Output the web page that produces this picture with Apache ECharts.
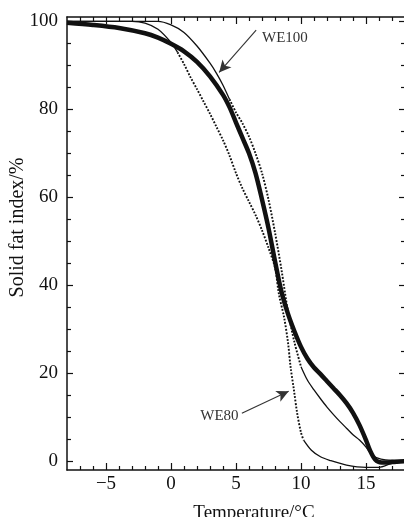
<!DOCTYPE html>
<html>
<head>
<meta charset="utf-8">
<script src="https://cdn.jsdelivr.net/npm/echarts@6/dist/echarts.min.js"></script>
<style>
html,body{margin:0;padding:0;background:#fff;}
#chart{width:404px;height:517px;}
</style>
</head>
<body>
<div id="chart"></div>
<script>
// ---------- data ----------
const xRange = [-8, 18];
const yRange = [-2, 101];
const xMajorTicks = [-5, 0, 5, 10, 15];
const xMinorTicks = [-7, -6, -4, -3, -2, -1, 1, 2, 3, 4, 6, 7, 8, 9, 11, 12, 13, 14, 16, 17];
const yMajorTicks = [0, 20, 40, 60, 80, 100];
const yMinorTicks = [5, 10, 15, 25, 30, 35, 45, 50, 55, 65, 70, 75, 85, 90, 95];

// thick solid curve
const thickCurve = [
  [-8, 99.7], [-6, 99.2], [-4, 98.5], [-2, 97.3], [-1, 96.3], [0, 94.9], [1, 93.2], [2, 90.8],
  [3, 87.5], [4, 83.3], [4.5, 80.5], [5, 77], [5.5, 73.5], [6, 70], [6.5, 65.5], [7, 59.5],
  [7.5, 53], [8, 45.5], [8.5, 38.5], [9, 33.5], [9.5, 29.5], [10, 26], [10.5, 23.3],
  [11, 21.3], [11.5, 19.8], [12, 18.2], [12.5, 16.6], [13, 15], [13.5, 13.2], [14, 11],
  [14.5, 8.2], [15, 4.8], [15.3, 2.5], [15.7, 0.4], [16.2, -0.3], [17, -0.2], [18, 0]
];
// WE100 curve (thin; dotted where steep)
const we100Curve = [
  [-8, 100], [-1, 100], [0, 99.2], [1, 97.5], [2, 94.4], [3, 90.5], [3.5, 88.2], [4, 85.5],
  [4.5, 82.3], [5, 79.3], [5.5, 76.8], [6, 73.8], [6.5, 70], [7, 65.5], [7.5, 59.5], [8, 52],
  [8.5, 43.5], [9, 34], [9.5, 27], [10, 21.5], [10.5, 18.4], [11, 16.2], [11.5, 14.2],
  [12, 12.3], [12.5, 10.6], [13, 9], [13.5, 7.5], [14, 6], [14.5, 4.8], [15, 3.2],
  [15.4, 1.6], [15.8, 0.8], [16.5, 0.3], [18, 0.2]
];
// WE80 curve (thin; dotted where steep)
const we80Curve = [
  [-8, 100], [-3, 100], [-2, 99.6], [-1, 98.2], [0, 95.2], [0.5, 93], [1, 90.3], [1.5, 87.3],
  [2, 84.6], [2.5, 81.8], [3, 79], [3.5, 76], [4, 73], [4.5, 69.5], [5, 65.5], [5.5, 62],
  [6, 59], [6.5, 56], [7, 52.5], [7.5, 48.5], [8, 44], [8.3, 38], [8.7, 32.7], [9, 27],
  [9.2, 21.4], [9.46, 16.1], [9.7, 11], [10, 6.5], [10.2, 4.8], [10.8, 2.5], [11.5, 1],
  [12.2, 0.2], [13.5, -0.9], [15, -1.4], [16, -1.4], [17, -0.5], [18, -0.2]
];
// where the sampled curves look dotted (x range)
const we100DottedSpan = [4.5, 10];
const we80DottedSpan = [0.5, 10.2];

// annotations [arrow start, arrow tip, text anchor]
const we100Note = { text: 'WE100', from: [6.55, 98], to: [3.7, 88.4], at: [7.0, 96.2] };
const we80Note = { text: 'WE80', from: [5.45, 10.9], to: [9.05, 15.9], at: [5.2, 10.2] };

// ---------- build ----------
function segs(curve, span) {
  return [
    curve.filter(p => p[0] <= span[0]),
    curve.filter(p => p[0] >= span[0] && p[0] <= span[1]),
    curve.filter(p => p[0] >= span[1])
  ];
}
const SERIF = '"Liberation Serif", "DejaVu Serif", serif';
const INK = '#111';

function lineSeries(data, width, type) {
  return {
    type: 'line', data: data, showSymbol: false, symbol: 'none', smooth: 0.3,
    lineStyle: { color: INK, width: width, type: type, cap: 'butt' },
    silent: true, z: 3
  };
}
const dots = [1.8, 1.6];
const s100 = segs(we100Curve, we100DottedSpan);
const s80 = segs(we80Curve, we80DottedSpan);

const series = [
  lineSeries(thickCurve, 4.5, 'solid'),
  lineSeries(s100[0], 1.3, 'solid'),
  lineSeries(s100[1], 1.9, dots),
  lineSeries(s100[2], 1.3, 'solid'),
  lineSeries(s80[0], 1.3, 'solid'),
  lineSeries(s80[1], 1.9, dots),
  lineSeries(s80[2], 1.3, 'solid')
];

function note(n, side) {
  return {
    type: 'line', data: [], silent: true,
    markLine: {
      silent: true, symbol: ['none', 'arrow'], symbolSize: [9, 12],
      lineStyle: { color: '#333', width: 1.1, type: 'solid' },
      label: { show: false },
      data: [[{ coord: n.from }, { coord: n.to }]]
    },
    markPoint: {
      silent: true, symbol: 'circle', symbolSize: 0,
      label: {
        show: true, formatter: n.text, position: side, distance: 0,
        fontFamily: SERIF, fontSize: 15, color: '#333'
      },
      data: [{ coord: n.at }]
    }
  };
}
series.push(note(we100Note, 'right'));
series.push(note(we80Note, 'left'));

const fmt = v => (v < 0 ? '\u2212' + Math.abs(v) : String(v));

function mkAxis(range, pos, ticks, len, labels, showLine, labelMargin, labelFmt, extra) {
  return Object.assign({
    type: 'value', position: pos, min: range[0], max: range[1],
    axisLine: { show: showLine, onZero: false, lineStyle: { color: INK, width: 1.5 } },
    splitLine: { show: false },
    axisTick: { show: true, inside: true, length: len, customValues: ticks, lineStyle: { color: INK, width: 1.2 } },
    axisLabel: labels ? { show: true, customValues: labels, formatter: labelFmt, fontFamily: SERIF, fontSize: 19, color: INK, margin: labelMargin } : { show: false }
  }, extra || {});
}

const option = {
  animation: false,
  backgroundColor: '#fff',
  grid: { left: 67, right: -1, top: 17, bottom: 47, containLabel: false, outerBoundsMode: 'none' },
  xAxis: [
    mkAxis(xRange, 'bottom', xMajorTicks, 7, xMajorTicks, true, 5, fmt, {
      name: 'Temperature/\u00B0C', nameLocation: 'middle', nameGap: 34, nameMoveOverlap: false,
      nameTextStyle: { fontFamily: SERIF, fontSize: 19, color: INK, padding: [0, 0, 0, 36] }
    }),
    mkAxis(xRange, 'bottom', xMinorTicks, 4, null, false),
    mkAxis(xRange, 'top', xMajorTicks, 7, null, true),
    mkAxis(xRange, 'top', xMinorTicks, 4, null, false)
  ],
  yAxis: [
    mkAxis(yRange, 'left', yMajorTicks, 6, yMajorTicks, true, 9, v => String(v), {
      name: 'Solid fat index/%', nameLocation: 'middle', nameGap: 39, nameMoveOverlap: false,
      nameTextStyle: { fontFamily: SERIF, fontSize: 20, color: INK, padding: [0, 0, 0, 32] }
    }),
    mkAxis(yRange, 'left', yMinorTicks, 4, null, false),
    mkAxis(yRange, 'right', yMajorTicks, 6, null, true),
    mkAxis(yRange, 'right', yMinorTicks, 4, null, false)
  ],
  series: series
};

const chart = echarts.init(document.getElementById('chart'), null, { renderer: 'canvas' });
chart.setOption(option);
</script>
</body>
</html>
